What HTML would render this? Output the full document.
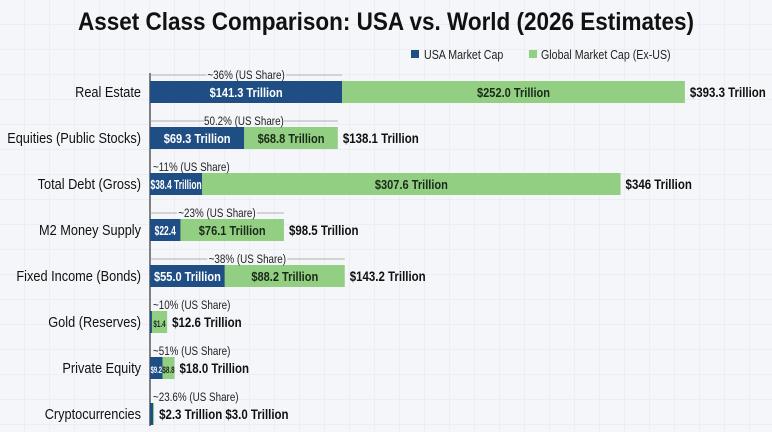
<!DOCTYPE html>
<html><head><meta charset="utf-8"><style>
body{margin:0;background:#f4f6f9;}
svg{display:block;font-family:"Liberation Sans",sans-serif;}
</style></head><body>
<svg id="c" width="772" height="432" xmlns="http://www.w3.org/2000/svg">
<defs><pattern id="g" width="25" height="25" patternUnits="userSpaceOnUse"><path d="M25 0V25M0 25H25" stroke="#e3e7ee" stroke-width="1" fill="none"/></pattern></defs>
<rect width="772" height="432" fill="#f4f6f9"/>
<rect width="772" height="432" fill="url(#g)"/>
<text transform="translate(386,30) scale(0.9,1)" text-anchor="middle" font-weight="bold" font-size="25" fill="#111">Asset Class Comparison: USA vs. World (2026 Estimates)</text>
<g>
<rect x="411" y="50" width="8" height="8" fill="#1f4e85"/>
<text transform="translate(424,59) scale(0.82,1)" font-size="13" fill="#222">USA Market Cap</text>
<rect x="529" y="50" width="8" height="8" fill="#93cf82"/>
<text transform="translate(541,59) scale(0.82,1)" font-size="13" fill="#222">Global Market Cap (Ex-US)</text>
</g>
<line x1="150" y1="73" x2="150" y2="426" stroke="#333" stroke-width="1.2"/>
<g id="bars"></g>
</svg>
<script>
const categories=["Real Estate","Equities (Public Stocks)","Total Debt (Gross)","M2 Money Supply","Fixed Income (Bonds)","Gold (Reserves)","Private Equity","Cryptocurrencies"];
const usValues=[141.3,69.3,38.4,22.4,55.0,1.4,9.2,2.3];
const globalValues=[252.0,68.8,307.6,76.1,88.2,11.2,8.8,0.7];
const usLabels=["$141.3 Trillion","$69.3 Trillion","$38.4 Trillion","$22.4","$55.0 Trillion","","$9.2",""];
const globalLabels=["$252.0 Trillion","$68.8 Trillion","$307.6 Trillion","$76.1 Trillion","$88.2 Trillion","$1.4","$8.8",""];
const totalLabels=["$393.3 Trillion","$138.1 Trillion","$346 Trillion","$98.5 Trillion","$143.2 Trillion","$12.6 Trillion","$18.0 Trillion","$2.3 Trillion $3.0 Trillion"];
const shareLabels=["~36% (US Share)","50.2% (US Share)","~11% (US Share)","~23% (US Share)","~38% (US Share)","~10% (US Share)","~51% (US Share)","~23.6% (US Share)"];
const X0=150,K=1.36;
const x=v=>X0+v*K;
const y=i=>92+i*46;
const NS="http://www.w3.org/2000/svg";
const g=document.getElementById('bars');
function mk(t,a,txt){const e=document.createElementNS(NS,t);for(const k in a)e.setAttribute(k,a[k]);if(txt!==undefined)e.textContent=txt;g.appendChild(e);return e;}
function tx(px,py,sx,a,txt){a.transform='translate('+px+','+py+') scale('+sx+',1)';return mk('text',a,txt);}
categories.forEach((c,i)=>{
 const cy=y(i),h=22;
 let e=tx(141,cy+5,0.85,{'text-anchor':'end','font-size':15,fill:'#111'},c);
 
 
 const xu=x(usValues[i]),xg=x(usValues[i]+globalValues[i]);
 e=mk('rect',{x:X0,y:cy-h/2,width:Math.max(xu-X0,2),height:h,fill:'#1f4e85'});
 
 
 e=mk('rect',{x:xu,y:cy-h/2,width:xg-xu,height:h,fill:'#93cf82'});
 
 
 const wu=xu-X0,wg=xg-xu;
 if(usLabels[i]){e=tx((X0+xu)/2,cy+5,wu<60?0.65:0.85,{'text-anchor':'middle','font-size':wu<25?9:13,'font-weight':'bold',fill:'#fff'},usLabels[i]);
 
 }
 if(globalLabels[i]){e=tx((xu+xg)/2,cy+5,wg<30?0.7:0.85,{'text-anchor':'middle','font-size':wg<30?9:13,'font-weight':'bold',fill:'#1a2a1a'},globalLabels[i]);
 
 }
 e=tx(xg+5,cy+5,0.82,{'font-size':14,'font-weight':'bold',fill:'#111'},totalLabels[i]);
 
 
 const ty=cy-17;
 const centered=[0,1,3,4].includes(i);
 if(centered){
  const end=i===0?xu:xg;
  const cx=(X0+end)/2;
  e=tx(cx,ty+4,0.82,{'text-anchor':'middle','font-size':12,fill:'#222'},shareLabels[i]);
  
  
  mk('line',{x1:X0,y1:ty,x2:cx-40,y2:ty,stroke:'#999','stroke-width':0.8});
  mk('line',{x1:cx+40,y1:ty,x2:end,y2:ty,stroke:'#999','stroke-width':0.8});
 } else {
  e=tx(153,ty+4,0.82,{'font-size':12,fill:'#222'},shareLabels[i]);
  
  
 }
});
</script>
</body></html>
